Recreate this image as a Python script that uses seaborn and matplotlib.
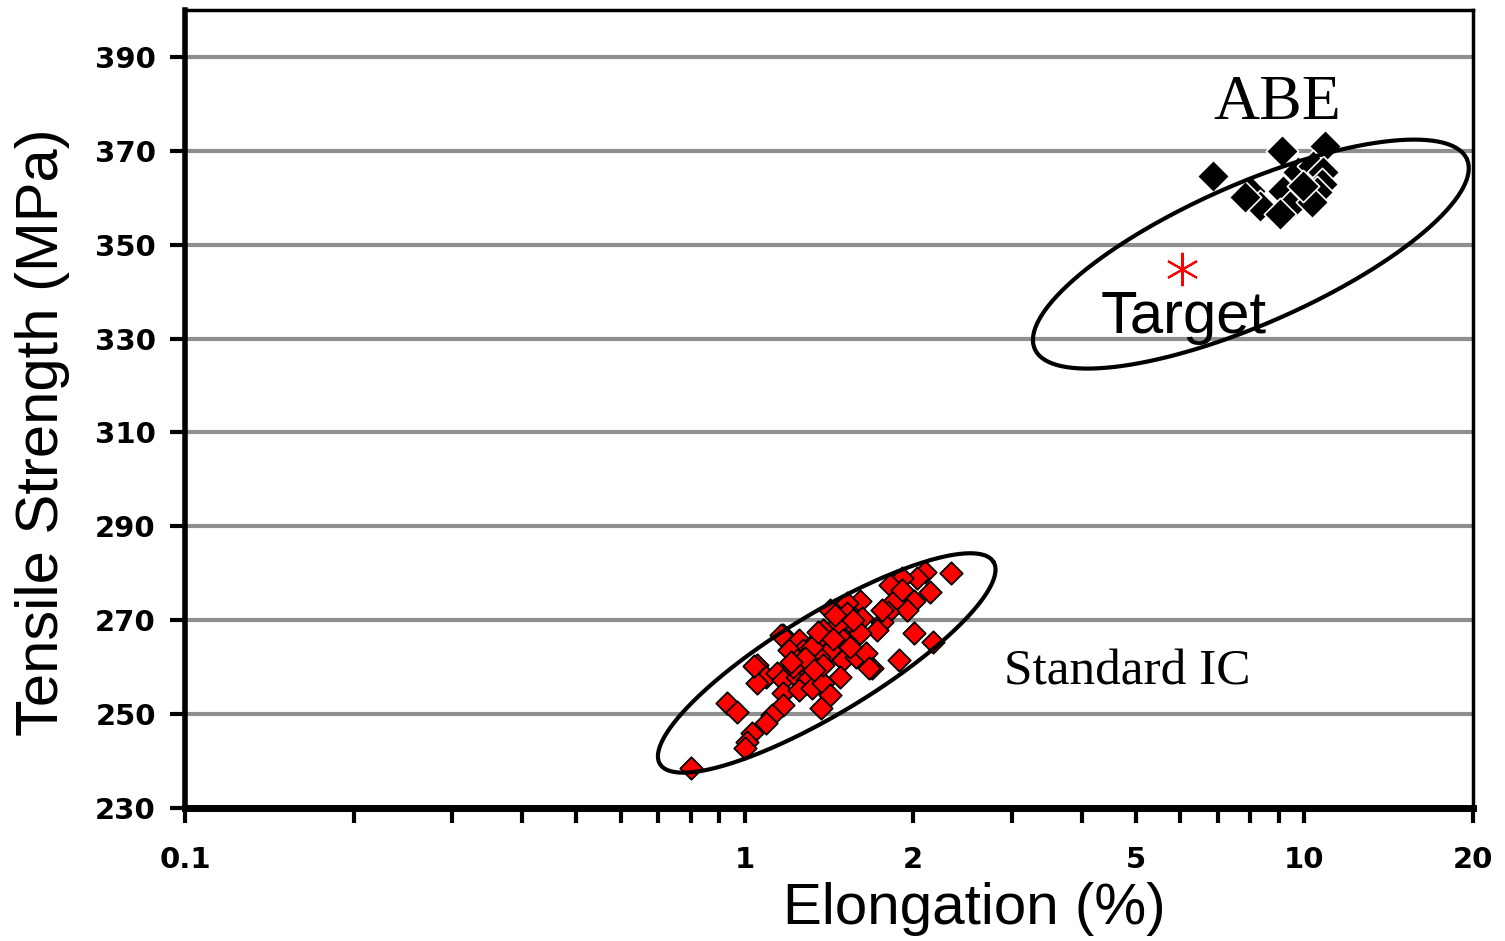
import numpy as np
import pandas as pd
import matplotlib
matplotlib.use("Agg")
import matplotlib.pyplot as plt
import seaborn as sns

# ---- data ----
ic_elong = [0.80, 2.34, 2.10, 2.03, 1.91, 2.14, 2.01, 1.95, 1.82, 1.85, 1.80, 2.01, 2.17,
            1.89, 1.69, 1.605, 1.52, 1.42, 1.62, 1.54, 1.46, 1.38, 1.76, 1.72, 1.605, 1.50,
            1.17, 1.25, 1.345, 1.42, 1.27, 1.20, 1.29, 1.36, 1.50, 1.58, 1.65, 1.67, 1.48,
            1.05, 1.09, 1.05, 1.14, 1.17, 1.24, 1.31, 1.29, 1.17, 1.25, 1.32, 1.38, 1.42,
            1.37, 1.17, 1.12, 1.09, 1.03, 1.01, 1.00, 0.93, 0.97, 1.52, 1.45, 1.32, 1.24,
            1.22, 1.38, 1.54, 1.76, 1.91, 1.16, 1.04, 1.35, 1.44, 1.28, 1.56, 1.21, 1.33]
ic_tensile = [238.5, 280.1, 280.3, 279.1, 279.0, 276.1, 274.0, 272.2, 277.6, 274.0, 271.8, 267.3, 265.4,
              261.6, 259.9, 274.0, 273.7, 272.2, 270.5, 269.7, 269.0, 268.0, 269.7, 268.0, 267.3, 265.8,
              266.9, 265.8, 265.8, 263.7, 263.7, 263.7, 261.6, 262.2, 261.6, 262.2, 263.0, 259.9, 258.0,
              260.5, 258.0, 256.7, 258.8, 257.3, 258.0, 258.8, 257.3, 254.5, 255.2, 255.6, 256.7, 254.1,
              251.3, 252.0, 249.8, 248.1, 246.0, 244.1, 242.8, 252.4, 250.5, 271.6, 271.2, 264.3, 261.6,
              260.1, 260.5, 264.3, 272.2, 276.5, 266.9, 260.3, 267.5, 266.0, 262.0, 270.0, 261.0, 259.5]

abe_elong = [6.86, 9.11, 10.87, 7.98, 8.32, 7.82, 9.15, 9.73, 10.35, 10.78, 10.74, 10.52,
             9.41, 9.03, 10.32, 9.93]
abe_tensile = [364.6, 370.0, 371.0, 361.4, 358.2, 360.1, 361.4, 365.5, 366.7, 365.5, 362.9, 361.2,
               358.2, 356.5, 359.1, 362.5]

target_elong = [6.04]
target_tensile = [344.8]

x_ticks = [0.1, 1, 2, 5, 10, 20]
x_ticklabels = ["0.1", "1", "2", "5", "10", "20"]
y_ticks = [230, 250, 270, 290, 310, 330, 350, 370, 390]

ic_df = pd.DataFrame({"Elongation": ic_elong, "Tensile": ic_tensile})
abe_df = pd.DataFrame({"Elongation": abe_elong, "Tensile": abe_tensile})

sns.set_theme(style="white")
plt.rcParams["font.family"] = ["DejaVu Sans"]

fig = plt.figure(figsize=(15.05, 9.41), dpi=100)
ax = fig.add_axes([185 / 1505, 1 - 808 / 941, (1473 - 185) / 1505, (808 - 10) / 941])

ax.set_xscale("log")
ax.set_xlim(0.1, 20)
ax.set_ylim(230, 400)

for yv in y_ticks[1:]:
    ax.axhline(yv, color="#8f8f8f", lw=3, zorder=0)

sns.scatterplot(data=ic_df, x="Elongation", y="Tensile", ax=ax, marker="D", s=130,
                color="#ff0000", edgecolor="black", linewidth=1.3, zorder=3, legend=False)
sns.scatterplot(data=abe_df, x="Elongation", y="Tensile", ax=ax, marker="D", s=270,
                color="black", edgecolor="white", linewidth=1.2, zorder=3, legend=False)
ax.plot(target_elong, target_tensile, linestyle="none", marker=(6, 2, 0), markersize=24,
        markeredgecolor="red", markeredgewidth=1.5, color="red", zorder=4)

# ellipses drawn in display space around data centres
fig.canvas.draw()
def draw_ellipse(cx, cy, a, b, theta_deg):
    t = np.linspace(0, 2 * np.pi, 400)
    th = np.deg2rad(theta_deg)
    u = a * np.cos(t)
    v = b * np.sin(t)
    dx = u * np.cos(th) - v * np.sin(th)
    dy = u * np.sin(th) + v * np.cos(th)
    c = ax.transData.transform((cx, cy))
    pts = np.column_stack([c[0] + dx, c[1] + dy])
    d = ax.transData.inverted().transform(pts)
    ax.plot(d[:, 0], d[:, 1], color="black", lw=3, zorder=5)

draw_ellipse(1.401, 260.9, 195, 50, 31.2)
draw_ellipse(8.02, 348.0, 236, 70, 23.7)

ax.text(8.95, 380.0, "ABE", fontsize=46, family="Liberation Serif",
        ha="center", va="center", color="black")
ax.text(2.91, 258.9, "Standard IC", fontsize=37, family="Liberation Serif",
        ha="left", va="center", color="black")
ax.text(6.08, 334.5, "Target", fontsize=43, family="Liberation Sans",
        ha="center", va="center", color="black")

ax.set_xticks(x_ticks)
ax.set_xticklabels(x_ticklabels)
ax.set_xticks([0.2, 0.3, 0.4, 0.5, 0.6, 0.7, 0.8, 0.9, 3, 4, 6, 7, 8, 9], minor=True)
ax.xaxis.set_minor_formatter(matplotlib.ticker.NullFormatter())
ax.set_yticks(y_ticks)
ax.set_yticklabels([str(v) for v in y_ticks])

ax.tick_params(axis="both", which="major", direction="out", length=11, width=3,
               labelsize=21, color="black", bottom=True, left=True, labelcolor="black")
ax.tick_params(axis="x", which="minor", direction="out", length=11, width=3, bottom=True,
               color="black")
ax.tick_params(axis="x", pad=16)
ax.tick_params(axis="y", pad=10)
for lab in ax.get_xticklabels() + ax.get_yticklabels():
    lab.set_fontweight("bold")

for side, w in [("left", 4), ("bottom", 5), ("top", 2.5), ("right", 2.5)]:
    ax.spines[side].set_visible(True)
    ax.spines[side].set_color("black")
    ax.spines[side].set_linewidth(w)

ax.set_xlabel("Elongation (%)", fontsize=42, family="Liberation Sans", color="black")
ax.xaxis.set_label_coords(0.613, -0.093, transform=ax.transAxes)
ax.xaxis.label.set_va("top")
ax.set_ylabel("Tensile Strength (MPa)", fontsize=43, family="Liberation Sans",
              color="black")
ax.yaxis.set_label_coords(-0.089, 0.471, transform=ax.transAxes)

fig.savefig("out.png", dpi=100, facecolor="white")
